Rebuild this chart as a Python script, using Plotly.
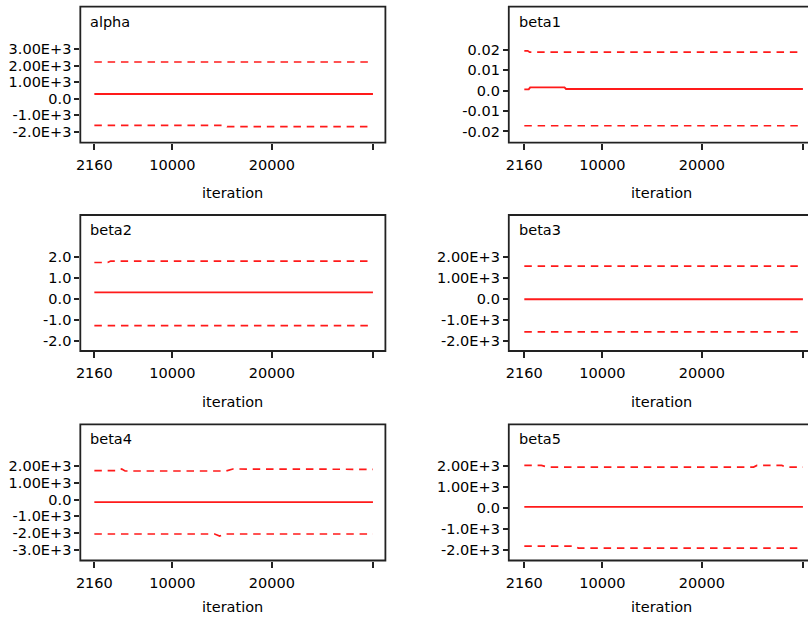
import plotly.graph_objects as go

# ---------------- data ----------------
panel_names = ["alpha", "beta1", "beta2", "beta3", "beta4", "beta5"]

x_tick_vals = [2160, 10000, 20000, 30160]
x_tick_text = ["2160", "10000", "20000", ""]

# alpha
alpha_med_it = [2160, 30160]
alpha_med = [283, 283]
alpha_hi_it = [2160, 30160]
alpha_hi = [2225, 2225]
alpha_lo_it = [2160, 15300, 15500, 30160]
alpha_lo = [-1618, -1618, -1699, -1699]
alpha_ytick_vals = [-2000, -1000, 0, 1000, 2000, 3000]
alpha_ytick_text = ["-2.0E+3", "-1.0E+3", "0.0", "1.00E+3", "2.00E+3", "3.00E+3"]

# beta1
beta1_med_it = [2160, 2600, 2750, 6200, 6350, 30160]
beta1_med = [0.0006, 0.0006, 0.0016, 0.0016, 0.0008, 0.0008]
beta1_hi_it = [2160, 2500, 2700, 30160]
beta1_hi = [0.0195, 0.0195, 0.0188, 0.0188]
beta1_lo_it = [2160, 30160]
beta1_lo = [-0.0172, -0.0172]
beta1_ytick_vals = [-0.02, -0.01, 0, 0.01, 0.02]
beta1_ytick_text = ["-0.02", "-0.01", "0.0", "0.01", "0.02"]

# beta2
beta2_med_it = [2160, 30160]
beta2_med = [0.31, 0.31]
beta2_hi_it = [2160, 3500, 3800, 30160]
beta2_hi = [1.74, 1.74, 1.81, 1.81]
beta2_lo_it = [2160, 30160]
beta2_lo = [-1.28, -1.28]
beta2_ytick_vals = [-2, -1, 0, 1, 2]
beta2_ytick_text = ["-2.0", "-1.0", "0.0", "1.0", "2.0"]

# beta3
beta3_med_it = [2160, 30160]
beta3_med = [0, 0]
beta3_hi_it = [2160, 30160]
beta3_hi = [1577, 1577]
beta3_lo_it = [2160, 30160]
beta3_lo = [-1562, -1562]
beta3_ytick_vals = [-2000, -1000, 0, 1000, 2000]
beta3_ytick_text = ["-2.0E+3", "-1.0E+3", "0.0", "1.00E+3", "2.00E+3"]

# beta4
beta4_med_it = [2160, 30160]
beta4_med = [-150, -150]
beta4_hi_it = [2160, 4580, 4910, 5250, 15410, 16080, 30160]
beta4_hi = [1722, 1722, 1821, 1702, 1702, 1821, 1802]
beta4_lo_it = [2160, 14250, 14750, 15250, 30160]
beta4_lo = [-2048, -2048, -2167, -2048, -2048]
beta4_ytick_vals = [-3000, -2000, -1000, 0, 1000, 2000]
beta4_ytick_text = ["-3.0E+3", "-2.0E+3", "-1.0E+3", "0.0", "1.00E+3", "2.00E+3"]

# beta5
beta5_med_it = [2160, 30160]
beta5_med = [40, 40]
beta5_hi_it = [2160, 3870, 4540, 25200, 25540, 28040, 28470, 30160]
beta5_hi = [2005, 2005, 1925, 1925, 2005, 2005, 1925, 1925]
beta5_lo_it = [2160, 7200, 7600, 30160]
beta5_lo = [-1820, -1820, -1916, -1916]
beta5_ytick_vals = [-2000, -1000, 0, 1000, 2000]
beta5_ytick_text = ["-2.0E+3", "-1.0E+3", "0.0", "1.00E+3", "2.00E+3"]

series = {
    "alpha": (alpha_med_it, alpha_med, alpha_hi_it, alpha_hi, alpha_lo_it, alpha_lo, alpha_ytick_vals, alpha_ytick_text),
    "beta1": (beta1_med_it, beta1_med, beta1_hi_it, beta1_hi, beta1_lo_it, beta1_lo, beta1_ytick_vals, beta1_ytick_text),
    "beta2": (beta2_med_it, beta2_med, beta2_hi_it, beta2_hi, beta2_lo_it, beta2_lo, beta2_ytick_vals, beta2_ytick_text),
    "beta3": (beta3_med_it, beta3_med, beta3_hi_it, beta3_hi, beta3_lo_it, beta3_lo, beta3_ytick_vals, beta3_ytick_text),
    "beta4": (beta4_med_it, beta4_med, beta4_hi_it, beta4_hi, beta4_lo_it, beta4_lo, beta4_ytick_vals, beta4_ytick_text),
    "beta5": (beta5_med_it, beta5_med, beta5_hi_it, beta5_hi, beta5_lo_it, beta5_lo, beta5_ytick_vals, beta5_ytick_text),
}

# ---------------- layout geometry (pixels) ----------------
W, H = 808, 617
FONT = "DejaVu Sans"
FS = 14.5
TXT = "#000000"
RED = "#ff1a1a"

# columns: (domain left px, domain right px, frame right px, x range)
cols = [
    (76.7, 383.3, 383.3, [750, 31410]),
    (507.3, 808.0, 813.9, [600, 30670]),
]
# rows: (frame top px, frame bottom px, "iteration" label centre px)
rows = [(6.7, 142.7, 193.0), (215.0, 351.0, 401.7), (424.3, 560.5, 607.0)]
y_ranges = {
    "alpha": [-2672, 5581],
    "beta1": [-0.02551, 0.04109],
    "beta2": [-2.49, 4.01],
    "beta3": [-2471, 4015],
    "beta4": [-3625, 4482],
    "beta5": [-2505, 3957],
}

fig = go.Figure()
shapes = []
annotations = []
layout = {}

for i, name in enumerate(panel_names):
    r, c = divmod(i, 2)
    xl, xr, xfr, xrange = cols[c]
    yt, yb, ylab = rows[r]
    k = "" if i == 0 else str(i + 1)
    med_it, med, hi_it, hi, lo_it, lo, ytv, ytt = series[name]

    common = dict(xaxis="x" + k, yaxis="y" + k, mode="lines", showlegend=False, hoverinfo="skip")
    fig.add_trace(go.Scatter(x=hi_it, y=hi, line=dict(color=RED, width=1.7, dash="7.5px,5.8px"), **common))
    fig.add_trace(go.Scatter(x=lo_it, y=lo, line=dict(color=RED, width=1.7, dash="7.5px,5.8px"), **common))
    fig.add_trace(go.Scatter(x=med_it, y=med, line=dict(color=RED, width=1.9), **common))

    layout["xaxis" + k] = dict(
        domain=[xl / W, xr / W], range=xrange, anchor="y" + k,
        tickmode="array", tickvals=x_tick_vals, ticktext=x_tick_text,
        ticks="outside", ticklen=6, tickwidth=1.6, tickcolor="#222",
        showgrid=False, zeroline=False, showline=False,
        tickfont=dict(family=FONT, size=FS, color=TXT), ticklabelstandoff=3,
    )
    layout["yaxis" + k] = dict(
        domain=[1 - yb / H, 1 - yt / H], range=y_ranges[name], anchor="x" + k,
        tickmode="array", tickvals=ytv, ticktext=ytt,
        ticks="outside", ticklen=5, tickwidth=1.6, tickcolor="#222",
        showgrid=False, zeroline=False, showline=False,
        tickfont=dict(family=FONT, size=FS, color=TXT),
    )
    shapes.append(dict(type="rect", xref="paper", yref="paper",
                       x0=xl / W, x1=xfr / W, y0=1 - yb / H, y1=1 - yt / H,
                       line=dict(color="#222", width=1.8), fillcolor="rgba(0,0,0,0)", layer="above"))
    annotations.append(dict(text=name, xref="paper", yref="paper",
                            x=(xl + 8) / W, y=1 - (yt + 15) / H, xanchor="left", yanchor="middle",
                            showarrow=False, font=dict(family=FONT, size=FS, color=TXT)))
    annotations.append(dict(text="iteration", xref="paper", yref="paper",
                            x=((xl + xfr) / 2) / W, y=1 - ylab / H, xanchor="center", yanchor="middle",
                            showarrow=False, font=dict(family=FONT, size=FS, color=TXT)))

fig.update_layout(
    width=W, height=H, autosize=False,
    margin=dict(l=0, r=0, t=0, b=0),
    paper_bgcolor="white", plot_bgcolor="white",
    shapes=shapes, annotations=annotations,
    **layout,
)

fig.write_html(
    "out.html",
    config={"displayModeBar": False},
    post_script="document.body.style.margin='0px';document.body.style.overflow='hidden';",
)
